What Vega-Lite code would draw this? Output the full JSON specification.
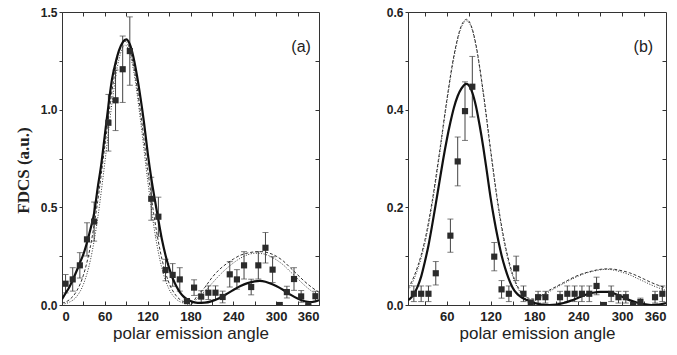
{
  "$schema": "https://vega.github.io/schema/vega-lite/v6.json",
  "background": "white",
  "padding": {"left": 13, "top": 5, "right": 5, "bottom": 5},
  "spacing": 65,
  "datasets": {
    "pa": [
      {"x":5,"y":0.109,"lo":0.062,"hi":0.156},{"x":15,"y":0.131,"lo":0.071,"hi":0.191},{"x":25,"y":0.203,"lo":0.138,"hi":0.268},
      {"x":35,"y":0.336,"lo":0.251,"hi":0.421},{"x":45,"y":0.427,"lo":0.327,"hi":0.527},{"x":65,"y":0.933,"lo":0.788,"hi":1.078},
      {"x":75,"y":1.048,"lo":0.893,"hi":1.203},{"x":85,"y":1.207,"lo":1.037,"hi":1.377},{"x":95,"y":1.30,"lo":1.125,"hi":1.475},
      {"x":125,"y":0.544,"lo":0.434,"hi":0.654},{"x":135,"y":0.452,"lo":0.352,"hi":0.552},{"x":145,"y":0.179,"lo":0.124,"hi":0.234},
      {"x":155,"y":0.154,"lo":0.096,"hi":0.212},{"x":165,"y":0.131,"lo":0.071,"hi":0.191},{"x":175,"y":0.02,"lo":0.02,"hi":0.02},
      {"x":185,"y":0.089,"lo":0.049,"hi":0.129},{"x":195,"y":0.043,"lo":0.013,"hi":0.073},{"x":205,"y":0.063,"lo":0.028,"hi":0.098},
      {"x":215,"y":0.063,"lo":0.028,"hi":0.098},{"x":225,"y":0.041,"lo":0.011,"hi":0.071},{"x":235,"y":0.157,"lo":0.092,"hi":0.222},
      {"x":245,"y":0.131,"lo":0.081,"hi":0.181},{"x":255,"y":0.203,"lo":0.133,"hi":0.273},{"x":265,"y":0.092,"lo":0.052,"hi":0.132},
      {"x":275,"y":0.203,"lo":0.133,"hi":0.273},{"x":285,"y":0.293,"lo":0.215,"hi":0.371},{"x":295,"y":0.181,"lo":0.115,"hi":0.247},
      {"x":305,"y":0.0,"lo":0.0,"hi":0.0},{"x":315,"y":0.066,"lo":0.036,"hi":0.096},{"x":325,"y":0.133,"lo":0.075,"hi":0.191},
      {"x":335,"y":0.044,"lo":0.014,"hi":0.074},{"x":345,"y":0.0,"lo":0.0,"hi":0.0},{"x":355,"y":0.045,"lo":0.02,"hi":0.07}
    ],
    "ca": [
      {"m":"solid","x":0,"y":0.03},{"m":"solid","x":5,"y":0.06},{"m":"solid","x":10,"y":0.09},{"m":"solid","x":15,"y":0.128},
      {"m":"solid","x":20,"y":0.17},{"m":"solid","x":25,"y":0.215},{"m":"solid","x":30,"y":0.26},{"m":"solid","x":35,"y":0.32},
      {"m":"solid","x":40,"y":0.39},{"m":"solid","x":45,"y":0.47},{"m":"solid","x":50,"y":0.6},{"m":"solid","x":55,"y":0.72},
      {"m":"solid","x":60,"y":0.87},{"m":"solid","x":65,"y":1.02},{"m":"solid","x":70,"y":1.155},{"m":"solid","x":75,"y":1.24},
      {"m":"solid","x":80,"y":1.305},{"m":"solid","x":85,"y":1.345},{"m":"solid","x":90,"y":1.36},{"m":"solid","x":95,"y":1.335},
      {"m":"solid","x":100,"y":1.27},{"m":"solid","x":105,"y":1.175},{"m":"solid","x":110,"y":1.06},{"m":"solid","x":115,"y":0.93},
      {"m":"solid","x":120,"y":0.78},{"m":"solid","x":125,"y":0.65},{"m":"solid","x":130,"y":0.54},{"m":"solid","x":135,"y":0.435},
      {"m":"solid","x":140,"y":0.335},{"m":"solid","x":145,"y":0.255},{"m":"solid","x":150,"y":0.19},{"m":"solid","x":155,"y":0.137},
      {"m":"solid","x":160,"y":0.097},{"m":"solid","x":165,"y":0.066},{"m":"solid","x":170,"y":0.044},{"m":"solid","x":175,"y":0.03},
      {"m":"solid","x":180,"y":0.02},{"m":"solid","x":190,"y":0.011},{"m":"solid","x":200,"y":0.012},{"m":"solid","x":210,"y":0.02},
      {"m":"solid","x":220,"y":0.035},{"m":"solid","x":230,"y":0.055},{"m":"solid","x":240,"y":0.077},{"m":"solid","x":250,"y":0.097},
      {"m":"solid","x":260,"y":0.112},{"m":"solid","x":270,"y":0.121},{"m":"solid","x":277,"y":0.123},{"m":"solid","x":285,"y":0.119},
      {"m":"solid","x":290,"y":0.113},{"m":"solid","x":300,"y":0.097},{"m":"solid","x":310,"y":0.077},{"m":"solid","x":320,"y":0.053},
      {"m":"solid","x":330,"y":0.033},{"m":"solid","x":340,"y":0.019},{"m":"solid","x":347,"y":0.015},{"m":"solid","x":355,"y":0.018},
      {"m":"solid","x":360,"y":0.025},
      {"m":"dash","x":0,"y":0.009},{"m":"dash","x":10,"y":0.026},{"m":"dash","x":20,"y":0.068},{"m":"dash","x":30,"y":0.153},
      {"m":"dash","x":40,"y":0.304},{"m":"dash","x":50,"y":0.531},{"m":"dash","x":60,"y":0.813},{"m":"dash","x":70,"y":1.095},
      {"m":"dash","x":80,"y":1.295},{"m":"dash","x":88,"y":1.35},{"m":"dash","x":90,"y":1.347},{"m":"dash","x":100,"y":1.23},
      {"m":"dash","x":110,"y":0.987},{"m":"dash","x":120,"y":0.696},{"m":"dash","x":130,"y":0.431},{"m":"dash","x":140,"y":0.235},
      {"m":"dash","x":150,"y":0.112},{"m":"dash","x":160,"y":0.047},{"m":"dash","x":170,"y":0.017},{"m":"dash","x":180,"y":0.006},
      {"m":"dash","x":190,"y":0.05},{"m":"dash","x":200,"y":0.09},{"m":"dash","x":210,"y":0.14},{"m":"dash","x":220,"y":0.18},
      {"m":"dash","x":230,"y":0.21},{"m":"dash","x":240,"y":0.235},{"m":"dash","x":250,"y":0.255},{"m":"dash","x":260,"y":0.266},
      {"m":"dash","x":270,"y":0.272},{"m":"dash","x":280,"y":0.273},{"m":"dash","x":290,"y":0.266},{"m":"dash","x":300,"y":0.25},
      {"m":"dash","x":310,"y":0.225},{"m":"dash","x":320,"y":0.19},{"m":"dash","x":330,"y":0.155},{"m":"dash","x":340,"y":0.12},
      {"m":"dash","x":350,"y":0.09},{"m":"dash","x":360,"y":0.065},
      {"m":"dot","x":0,"y":0.004},{"m":"dot","x":10,"y":0.014},{"m":"dot","x":20,"y":0.041},{"m":"dot","x":30,"y":0.106},
      {"m":"dot","x":40,"y":0.233},{"m":"dot","x":50,"y":0.444},{"m":"dot","x":60,"y":0.729},{"m":"dot","x":70,"y":1.033},
      {"m":"dot","x":80,"y":1.261},{"m":"dot","x":88,"y":1.33},{"m":"dot","x":90,"y":1.328},{"m":"dot","x":100,"y":1.206},
      {"m":"dot","x":110,"y":0.945},{"m":"dot","x":120,"y":0.638},{"m":"dot","x":130,"y":0.372},{"m":"dot","x":140,"y":0.187},
      {"m":"dot","x":150,"y":0.081},{"m":"dot","x":160,"y":0.03},{"m":"dot","x":170,"y":0.01},{"m":"dot","x":180,"y":0.003},
      {"m":"dot","x":190,"y":0.035},{"m":"dot","x":200,"y":0.07},{"m":"dot","x":210,"y":0.11},{"m":"dot","x":220,"y":0.15},
      {"m":"dot","x":230,"y":0.185},{"m":"dot","x":240,"y":0.215},{"m":"dot","x":250,"y":0.24},{"m":"dot","x":260,"y":0.257},
      {"m":"dot","x":270,"y":0.265},{"m":"dot","x":280,"y":0.263},{"m":"dot","x":290,"y":0.252},{"m":"dot","x":300,"y":0.232},
      {"m":"dot","x":310,"y":0.205},{"m":"dot","x":320,"y":0.17},{"m":"dot","x":330,"y":0.135},{"m":"dot","x":340,"y":0.1},
      {"m":"dot","x":350,"y":0.07},{"m":"dot","x":360,"y":0.045}
    ],
    "pb": [
      {"x":15,"y":0.023,"lo":0.007,"hi":0.039},{"x":25,"y":0.023,"lo":0.007,"hi":0.039},{"x":35,"y":0.023,"lo":0.007,"hi":0.039},
      {"x":45,"y":0.065,"lo":0.041,"hi":0.089},{"x":65,"y":0.142,"lo":0.108,"hi":0.176},{"x":75,"y":0.294,"lo":0.244,"hi":0.344},
      {"x":85,"y":0.397,"lo":0.337,"hi":0.457},{"x":95,"y":0.447,"lo":0.385,"hi":0.509},{"x":125,"y":0.099,"lo":0.07,"hi":0.128},
      {"x":135,"y":0.032,"lo":0.014,"hi":0.05},{"x":145,"y":0.023,"lo":0.007,"hi":0.039},{"x":155,"y":0.075,"lo":0.05,"hi":0.1},
      {"x":165,"y":0.023,"lo":0.007,"hi":0.039},{"x":175,"y":0.005,"lo":0.005,"hi":0.005},{"x":185,"y":0.016,"lo":0.004,"hi":0.028},
      {"x":195,"y":0.016,"lo":0.004,"hi":0.028},{"x":215,"y":0.016,"lo":0.004,"hi":0.028},{"x":225,"y":0.023,"lo":0.007,"hi":0.039},
      {"x":235,"y":0.023,"lo":0.007,"hi":0.039},{"x":245,"y":0.023,"lo":0.007,"hi":0.039},{"x":255,"y":0.023,"lo":0.007,"hi":0.039},
      {"x":265,"y":0.039,"lo":0.021,"hi":0.057},{"x":275,"y":0.0,"lo":0.0,"hi":0.0},{"x":285,"y":0.023,"lo":0.007,"hi":0.039},
      {"x":295,"y":0.016,"lo":0.004,"hi":0.028},{"x":305,"y":0.016,"lo":0.004,"hi":0.028},{"x":315,"y":0.0,"lo":0.0,"hi":0.0},
      {"x":325,"y":0.006,"lo":0.0,"hi":0.014},{"x":345,"y":0.016,"lo":0.004,"hi":0.028},{"x":355,"y":0.023,"lo":0.007,"hi":0.039}
    ],
    "cb": [
      {"m":"solid","x":7,"y":0.01},{"m":"solid","x":10,"y":0.013},{"m":"solid","x":15,"y":0.022},{"m":"solid","x":20,"y":0.037},
      {"m":"solid","x":25,"y":0.058},{"m":"solid","x":30,"y":0.088},{"m":"solid","x":35,"y":0.122},{"m":"solid","x":40,"y":0.163},
      {"m":"solid","x":45,"y":0.207},{"m":"solid","x":50,"y":0.252},{"m":"solid","x":55,"y":0.297},{"m":"solid","x":60,"y":0.338},
      {"m":"solid","x":65,"y":0.374},{"m":"solid","x":70,"y":0.405},{"m":"solid","x":75,"y":0.428},{"m":"solid","x":80,"y":0.443},
      {"m":"solid","x":87,"y":0.453},{"m":"solid","x":95,"y":0.435},{"m":"solid","x":100,"y":0.407},{"m":"solid","x":105,"y":0.368},
      {"m":"solid","x":110,"y":0.323},{"m":"solid","x":115,"y":0.272},{"m":"solid","x":120,"y":0.22},{"m":"solid","x":125,"y":0.175},
      {"m":"solid","x":130,"y":0.136},{"m":"solid","x":135,"y":0.102},{"m":"solid","x":140,"y":0.075},{"m":"solid","x":145,"y":0.053},
      {"m":"solid","x":150,"y":0.036},{"m":"solid","x":155,"y":0.025},{"m":"solid","x":160,"y":0.018},{"m":"solid","x":170,"y":0.01},
      {"m":"solid","x":180,"y":0.004},{"m":"solid","x":190,"y":0.001},{"m":"solid","x":200,"y":0.0},{"m":"solid","x":210,"y":0.001},
      {"m":"solid","x":220,"y":0.004},{"m":"solid","x":230,"y":0.009},{"m":"solid","x":240,"y":0.015},{"m":"solid","x":250,"y":0.021},
      {"m":"solid","x":260,"y":0.025},{"m":"solid","x":270,"y":0.027},{"m":"solid","x":280,"y":0.027},{"m":"solid","x":290,"y":0.023},
      {"m":"solid","x":300,"y":0.017},{"m":"solid","x":310,"y":0.01},{"m":"solid","x":320,"y":0.005},{"m":"solid","x":330,"y":0.002},
      {"m":"solid","x":340,"y":0.0},{"m":"solid","x":350,"y":0.001},{"m":"solid","x":360,"y":0.004},
      {"m":"dash","x":7,"y":0.035},{"m":"dash","x":10,"y":0.042},{"m":"dash","x":20,"y":0.078},{"m":"dash","x":30,"y":0.132},
      {"m":"dash","x":40,"y":0.212},{"m":"dash","x":50,"y":0.312},{"m":"dash","x":60,"y":0.419},{"m":"dash","x":70,"y":0.512},
      {"m":"dash","x":80,"y":0.572},{"m":"dash","x":87,"y":0.585},{"m":"dash","x":95,"y":0.565},{"m":"dash","x":100,"y":0.533},
      {"m":"dash","x":110,"y":0.436},{"m":"dash","x":120,"y":0.319},{"m":"dash","x":130,"y":0.209},{"m":"dash","x":140,"y":0.123},
      {"m":"dash","x":150,"y":0.064},{"m":"dash","x":160,"y":0.03},{"m":"dash","x":170,"y":0.015},{"m":"dash","x":180,"y":0.012},
      {"m":"dash","x":190,"y":0.02},{"m":"dash","x":200,"y":0.03},{"m":"dash","x":210,"y":0.038},{"m":"dash","x":220,"y":0.046},
      {"m":"dash","x":230,"y":0.054},{"m":"dash","x":240,"y":0.061},{"m":"dash","x":250,"y":0.066},{"m":"dash","x":260,"y":0.07},
      {"m":"dash","x":270,"y":0.073},{"m":"dash","x":280,"y":0.074},{"m":"dash","x":290,"y":0.073},{"m":"dash","x":300,"y":0.07},
      {"m":"dash","x":310,"y":0.066},{"m":"dash","x":320,"y":0.06},{"m":"dash","x":330,"y":0.053},{"m":"dash","x":340,"y":0.046},
      {"m":"dash","x":350,"y":0.04},{"m":"dash","x":360,"y":0.035},
      {"m":"dot","x":7,"y":0.03},{"m":"dot","x":10,"y":0.037},{"m":"dot","x":20,"y":0.072},{"m":"dot","x":30,"y":0.126},
      {"m":"dot","x":40,"y":0.206},{"m":"dot","x":50,"y":0.306},{"m":"dot","x":60,"y":0.414},{"m":"dot","x":70,"y":0.508},
      {"m":"dot","x":80,"y":0.569},{"m":"dot","x":87,"y":0.582},{"m":"dot","x":95,"y":0.563},{"m":"dot","x":100,"y":0.53},
      {"m":"dot","x":110,"y":0.432},{"m":"dot","x":120,"y":0.314},{"m":"dot","x":130,"y":0.204},{"m":"dot","x":140,"y":0.118},
      {"m":"dot","x":150,"y":0.06},{"m":"dot","x":160,"y":0.027},{"m":"dot","x":170,"y":0.012},{"m":"dot","x":180,"y":0.009},
      {"m":"dot","x":190,"y":0.017},{"m":"dot","x":200,"y":0.027},{"m":"dot","x":210,"y":0.036},{"m":"dot","x":220,"y":0.044},
      {"m":"dot","x":230,"y":0.052},{"m":"dot","x":240,"y":0.059},{"m":"dot","x":250,"y":0.065},{"m":"dot","x":260,"y":0.069},
      {"m":"dot","x":270,"y":0.072},{"m":"dot","x":280,"y":0.073},{"m":"dot","x":290,"y":0.071},{"m":"dot","x":300,"y":0.067},
      {"m":"dot","x":310,"y":0.062},{"m":"dot","x":320,"y":0.055},{"m":"dot","x":330,"y":0.048},{"m":"dot","x":340,"y":0.041},
      {"m":"dot","x":350,"y":0.035},{"m":"dot","x":360,"y":0.03}
    ],
    "la": [{"x":335,"y":1.32,"t":"(a)"}],
    "lb": [{"x":329,"y":0.529,"t":"(b)"}]
  },
  "hconcat": [
    {
      "width": 257, "height": 293,
      "resolve": {"axis": {"x": "independent", "y": "independent"}},
      "layer": [
        {"data": {"name": "pa"}, "mark": {"type": "rule", "color": "#444", "strokeWidth": 1, "clip": true},
         "encoding": {"x": {"field": "x", "type": "quantitative", "scale": {"domain": [0, 360], "nice": false, "zero": false}, "axis": null},
                      "y": {"field": "lo", "type": "quantitative", "scale": {"domain": [0, 1.5], "nice": false}, "axis": null}, "y2": {"field": "hi"}}},
        {"data": {"name": "pa"}, "mark": {"type": "tick", "orient": "horizontal", "color": "#444", "size": 6, "thickness": 1, "clip": true},
         "encoding": {"x": {"field": "x", "type": "quantitative", "scale": {"domain": [0, 360], "nice": false, "zero": false}, "axis": null},
                      "y": {"field": "lo", "type": "quantitative", "scale": {"domain": [0, 1.5], "nice": false}, "axis": null}}},
        {"data": {"name": "pa"}, "mark": {"type": "tick", "orient": "horizontal", "color": "#444", "size": 6, "thickness": 1, "clip": true},
         "encoding": {"x": {"field": "x", "type": "quantitative", "scale": {"domain": [0, 360], "nice": false, "zero": false}, "axis": null},
                      "y": {"field": "hi", "type": "quantitative", "scale": {"domain": [0, 1.5], "nice": false}, "axis": null}}},
        {"data": {"name": "ca"}, "transform": [{"filter": "datum.m == 'dot'"}],
         "mark": {"type": "line", "color": "#333", "strokeWidth": 1, "strokeDash": [1, 1.6], "interpolate": "monotone", "clip": true},
         "encoding": {"x": {"field": "x", "type": "quantitative", "scale": {"domain": [0, 360], "nice": false, "zero": false}, "axis": null},
                      "y": {"field": "y", "type": "quantitative", "scale": {"domain": [0, 1.5], "nice": false}, "axis": null}}},
        {"data": {"name": "ca"}, "transform": [{"filter": "datum.m == 'dash'"}],
         "mark": {"type": "line", "color": "#333", "strokeWidth": 1, "strokeDash": [3, 2], "interpolate": "monotone", "clip": true},
         "encoding": {"x": {"field": "x", "type": "quantitative", "scale": {"domain": [0, 360], "nice": false, "zero": false}, "axis": null},
                      "y": {"field": "y", "type": "quantitative", "scale": {"domain": [0, 1.5], "nice": false}, "axis": null}}},
        {"data": {"name": "ca"}, "transform": [{"filter": "datum.m == 'solid'"}],
         "mark": {"type": "line", "color": "#111", "strokeWidth": 2.2, "interpolate": "monotone", "clip": true},
         "encoding": {"x": {"field": "x", "type": "quantitative", "scale": {"domain": [0, 360], "nice": false, "zero": false},
                            "axis": {"orient": "top", "values": [30,60,90,120,150,180,210,240,270,300,330], "labels": false, "title": null, "domain": false, "tickSize": -4}},
                      "y": {"field": "y", "type": "quantitative", "scale": {"domain": [0, 1.5], "nice": false},
                            "axis": {"orient": "right", "values": [0.25,0.5,0.75,1,1.25], "labels": false, "title": null, "domain": false, "tickSize": -4}}}},
        {"data": {"name": "pa"}, "mark": {"type": "point", "shape": "square", "filled": true, "size": 38, "color": "#2b2b2b", "opacity": 1, "clip": true},
         "encoding": {"x": {"field": "x", "type": "quantitative", "scale": {"domain": [0, 360], "nice": false, "zero": false},
                            "axis": {"orient": "bottom", "values": [0,30,60,90,120,150,180,210,240,270,300,330,360], "labelExpr": "datum.value % 60 == 0 ? datum.label : ''", "title": "polar emission angle", "tickSize": -4, "labelPadding": 9}},
                      "y": {"field": "y", "type": "quantitative", "scale": {"domain": [0, 1.5], "nice": false},
                            "axis": {"orient": "left", "values": [0,0.25,0.5,0.75,1,1.25,1.5], "labelExpr": "datum.value % 0.5 == 0 ? datum.label : ''", "format": ".1f", "title": "FDCS (a.u.)", "tickSize": 3, "labelPadding": 2, "titlePadding": 8, "titleY": 158}}}},
        {"data": {"name": "la"}, "mark": {"type": "text", "font": "Liberation Sans", "fontSize": 16, "color": "#222"},
         "encoding": {"x": {"field": "x", "type": "quantitative", "scale": {"domain": [0, 360], "nice": false, "zero": false}, "axis": null},
                      "y": {"field": "y", "type": "quantitative", "scale": {"domain": [0, 1.5], "nice": false}, "axis": null},
                      "text": {"field": "t"}}}
      ]
    },
    {
      "width": 258, "height": 293,
      "resolve": {"axis": {"x": "independent", "y": "independent"}},
      "layer": [
        {"data": {"name": "pb"}, "mark": {"type": "rule", "color": "#444", "strokeWidth": 1, "clip": true},
         "encoding": {"x": {"field": "x", "type": "quantitative", "scale": {"domain": [7, 360], "nice": false, "zero": false}, "axis": null},
                      "y": {"field": "lo", "type": "quantitative", "scale": {"domain": [0, 0.6], "nice": false}, "axis": null}, "y2": {"field": "hi"}}},
        {"data": {"name": "pb"}, "mark": {"type": "tick", "orient": "horizontal", "color": "#444", "size": 6, "thickness": 1, "clip": true},
         "encoding": {"x": {"field": "x", "type": "quantitative", "scale": {"domain": [7, 360], "nice": false, "zero": false}, "axis": null},
                      "y": {"field": "lo", "type": "quantitative", "scale": {"domain": [0, 0.6], "nice": false}, "axis": null}}},
        {"data": {"name": "pb"}, "mark": {"type": "tick", "orient": "horizontal", "color": "#444", "size": 6, "thickness": 1, "clip": true},
         "encoding": {"x": {"field": "x", "type": "quantitative", "scale": {"domain": [7, 360], "nice": false, "zero": false}, "axis": null},
                      "y": {"field": "hi", "type": "quantitative", "scale": {"domain": [0, 0.6], "nice": false}, "axis": null}}},
        {"data": {"name": "cb"}, "transform": [{"filter": "datum.m == 'dot'"}],
         "mark": {"type": "line", "color": "#333", "strokeWidth": 1, "strokeDash": [1, 1.6], "interpolate": "monotone", "clip": true},
         "encoding": {"x": {"field": "x", "type": "quantitative", "scale": {"domain": [7, 360], "nice": false, "zero": false}, "axis": null},
                      "y": {"field": "y", "type": "quantitative", "scale": {"domain": [0, 0.6], "nice": false}, "axis": null}}},
        {"data": {"name": "cb"}, "transform": [{"filter": "datum.m == 'dash'"}],
         "mark": {"type": "line", "color": "#333", "strokeWidth": 1, "strokeDash": [3, 2], "interpolate": "monotone", "clip": true},
         "encoding": {"x": {"field": "x", "type": "quantitative", "scale": {"domain": [7, 360], "nice": false, "zero": false}, "axis": null},
                      "y": {"field": "y", "type": "quantitative", "scale": {"domain": [0, 0.6], "nice": false}, "axis": null}}},
        {"data": {"name": "cb"}, "transform": [{"filter": "datum.m == 'solid'"}],
         "mark": {"type": "line", "color": "#111", "strokeWidth": 2.2, "interpolate": "monotone", "clip": true},
         "encoding": {"x": {"field": "x", "type": "quantitative", "scale": {"domain": [7, 360], "nice": false, "zero": false},
                            "axis": {"orient": "top", "values": [30,60,90,120,150,180,210,240,270,300,330], "labels": false, "title": null, "domain": false, "tickSize": -4}},
                      "y": {"field": "y", "type": "quantitative", "scale": {"domain": [0, 0.6], "nice": false},
                            "axis": {"orient": "right", "values": [0.1,0.2,0.3,0.4,0.5], "labels": false, "title": null, "domain": false, "tickSize": -4}}}},
        {"data": {"name": "pb"}, "mark": {"type": "point", "shape": "square", "filled": true, "size": 38, "color": "#2b2b2b", "opacity": 1, "clip": true},
         "encoding": {"x": {"field": "x", "type": "quantitative", "scale": {"domain": [7, 360], "nice": false, "zero": false},
                            "axis": {"orient": "bottom", "values": [30,60,90,120,150,180,210,240,270,300,330,360], "labelExpr": "datum.value % 60 == 0 ? datum.label : ''", "title": "polar emission angle", "tickSize": -4, "labelPadding": 9}},
                      "y": {"field": "y", "type": "quantitative", "scale": {"domain": [0, 0.6], "nice": false},
                            "axis": {"orient": "left", "values": [0,0.1,0.2,0.3,0.4,0.5,0.6], "labelExpr": "round(datum.value * 10) % 2 == 0 ? datum.label : ''", "format": ".1f", "title": null, "tickSize": 3, "labelPadding": 2}}}},
        {"data": {"name": "lb"}, "mark": {"type": "text", "font": "Liberation Sans", "fontSize": 16, "color": "#222"},
         "encoding": {"x": {"field": "x", "type": "quantitative", "scale": {"domain": [7, 360], "nice": false, "zero": false}, "axis": null},
                      "y": {"field": "y", "type": "quantitative", "scale": {"domain": [0, 0.6], "nice": false}, "axis": null},
                      "text": {"field": "t"}}}
      ]
    }
  ],
  "config": {
    "view": {"stroke": "#333", "strokeWidth": 1},
    "axis": {"grid": false, "domainColor": "#333", "tickColor": "#333", "labelColor": "#222", "labelFont": "Liberation Sans", "labelFontWeight": "bold",
             "titleFont": "Liberation Sans", "titleFontWeight": "normal", "titleColor": "#222"},
    "axisX": {"labelFontSize": 13, "titleFontSize": 17, "titlePadding": 2},
    "axisY": {"labelFontSize": 12, "titleFont": "Liberation Serif", "titleFontWeight": "bold", "titleFontSize": 17}
  }
}
